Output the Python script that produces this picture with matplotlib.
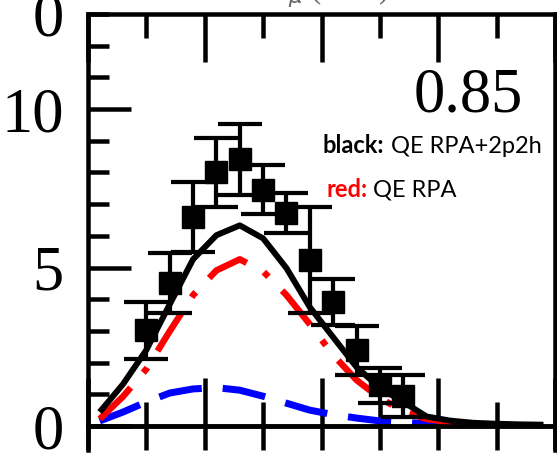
import matplotlib
matplotlib.use("Agg")
import matplotlib.pyplot as plt
from matplotlib.ticker import MultipleLocator, FixedLocator, NullFormatter

# ---- data: muon kinetic energy bins (GeV) and d2sigma values -------------
t_data = [0.25, 0.35, 0.45, 0.55, 0.65, 0.75, 0.85, 0.95, 1.05, 1.15, 1.25, 1.35]
xs_data = [3.02, 4.50, 6.60, 8.00, 8.41, 7.46, 6.71, 5.23, 3.91, 2.39, 1.29, 0.94]
xs_err = [0.90, 0.95, 1.10, 1.10, 1.12, 0.77, 0.63, 1.67, 0.72, 0.78, 0.55, 0.66]

t_model = [0.05, 0.15, 0.25, 0.35, 0.45, 0.55, 0.65, 0.75, 0.85, 0.95,
           1.05, 1.15, 1.25, 1.35, 1.45, 1.55, 1.65, 1.75, 1.85, 1.95]
qe_rpa_2p2h = [0.44, 1.32, 2.40, 3.84, 5.26, 6.02, 6.33, 5.92, 4.98, 3.75,
               2.80, 1.86, 1.20, 0.76, 0.30, 0.17, 0.10, 0.07, 0.05, 0.04]
qe_rpa = [0.22, 0.93, 1.80, 2.99, 4.13, 4.91, 5.26, 4.88, 4.13, 3.21,
          2.24, 1.45, 0.88, 0.47, 0.22, 0.12, 0.06, 0.03, 0.02, 0.01]
np_nh = [0.16, 0.44, 0.76, 1.04, 1.17, 1.21, 1.13, 0.94, 0.72, 0.50,
         0.36, 0.25, 0.16, 0.11, 0.08, 0.05, 0.03, 0.02, 0.01, 0.01]

bin_label = "0.85"
y_tick_values = [0, 5, 10]
y_tick_labels = ["0", "5", "10"]

# ---- figure layout ---------------------------------------------------------
W, H = 557, 461
DPI = 100
PX = 72.0 / DPI  # points per pixel

fig = plt.figure(figsize=(W / DPI, H / DPI), dpi=DPI)
fig.patch.set_facecolor("white")


def fx(px):
    return px / W


def fy(py):
    return 1.0 - py / H


left, right, top, bottom = 88, 555, 14, 426
ax = fig.add_axes([fx(left), fy(bottom), fx(right) - fx(left), fy(top) - fy(bottom)])
ax.set_xlim(0, 2.0)
ax.set_ylim(0, 13)

serif = ["Liberation Serif", "DejaVu Serif"]
sans = ["Lato", "DejaVu Sans"]

# curves
ax.plot(t_model, np_nh, color="#0000ff", lw=7 * PX, dashes=(6.2, 3.0),
        dash_capstyle="butt", zorder=2)
ax.plot(t_model, qe_rpa, color="#ff0000", lw=6.5 * PX, dashes=(6.8, 3.0, 1.0, 3.0),
        dash_capstyle="butt", zorder=3)
ax.plot(t_model, qe_rpa_2p2h, color="black", lw=6 * PX, zorder=4,
        solid_joinstyle="round", solid_capstyle="butt")

# data points
ax.errorbar(t_data, xs_data, yerr=xs_err, fmt="s", color="black",
            markersize=22 * PX, elinewidth=4.2 * PX, capsize=22 * PX,
            capthick=4.2 * PX, zorder=5)

# frame and ticks
spine_lw = 4.5 * PX
tick_w = 4.5 * PX
for s in ax.spines.values():
    s.set_linewidth(spine_lw)

ax.yaxis.set_major_locator(FixedLocator(y_tick_values))
ax.set_yticklabels(y_tick_labels, fontfamily=serif, fontsize=45)
ax.yaxis.set_minor_locator(MultipleLocator(1))
ax.xaxis.set_major_locator(MultipleLocator(0.5))
ax.xaxis.set_minor_locator(MultipleLocator(0.25))
ax.xaxis.set_major_formatter(NullFormatter())

ax.tick_params(axis="y", which="major", direction="in", length=43 * PX,
               width=tick_w, pad=24 * PX, left=True, right=False)
ax.tick_params(axis="y", which="minor", direction="in", length=21 * PX,
               width=tick_w, left=True, right=False)
ax.tick_params(axis="x", which="major", direction="in", length=48 * PX,
               width=tick_w, top=True, bottom=True)
ax.tick_params(axis="x", which="minor", direction="in", length=24 * PX,
               width=tick_w, top=True, bottom=True)

# label of the adjoining panel above, mostly off canvas
ax.text(-24 / (right - left), 13, "0", transform=ax.get_yaxis_transform(),
        ha="right", va="center_baseline", fontfamily=serif, fontsize=45)

# strip of the panel below
ax2 = fig.add_axes([fx(left), fy(450), fx(right) - fx(left), fy(bottom) - fy(450)])
ax2.set_xlim(0, 2.0)
ax2.set_ylim(0, 1)
ax2.patch.set_alpha(0)
ax2.spines["bottom"].set_visible(False)
for s in ("left", "right", "top"):
    ax2.spines[s].set_linewidth(spine_lw)
ax2.xaxis.set_major_locator(MultipleLocator(0.25))
ax2.xaxis.set_major_formatter(NullFormatter())
ax2.tick_params(axis="x", direction="in", length=24 * PX, width=tick_w,
                top=True, bottom=False)
ax2.set_yticks([])

# axis title of the panel above, cut by the canvas edge
fig.text(fx(270), fy(9), r"$T_\mu$ (GeV)", fontfamily=serif, fontsize=22,
         color="#666666", ha="left", va="bottom")

# bin label
fig.text(fx(523), fy(112), bin_label, fontfamily=serif, fontsize=45,
         ha="right", va="baseline")

# colour key
k1 = fig.text(fx(323), fy(153), "black:", fontfamily=sans, fontweight="bold",
              fontsize=17, color="black", ha="left", va="baseline")
ax.annotate("QE RPA+2p2h", xy=(1, 0), xycoords=k1, xytext=(4.5, 0),
            textcoords="offset points", fontfamily=sans, fontsize=17,
            color="black", ha="left", va="bottom", annotation_clip=False)
k2 = fig.text(fx(326), fy(197), "red:", fontfamily=sans, fontweight="bold",
              fontsize=17, color="#ff0000", ha="left", va="baseline")
ax.annotate("QE RPA", xy=(1, 0), xycoords=k2, xytext=(4.5, 0),
            textcoords="offset points", fontfamily=sans, fontsize=17,
            color="black", ha="left", va="bottom", annotation_clip=False)

fig.savefig("out.png", dpi=DPI)
